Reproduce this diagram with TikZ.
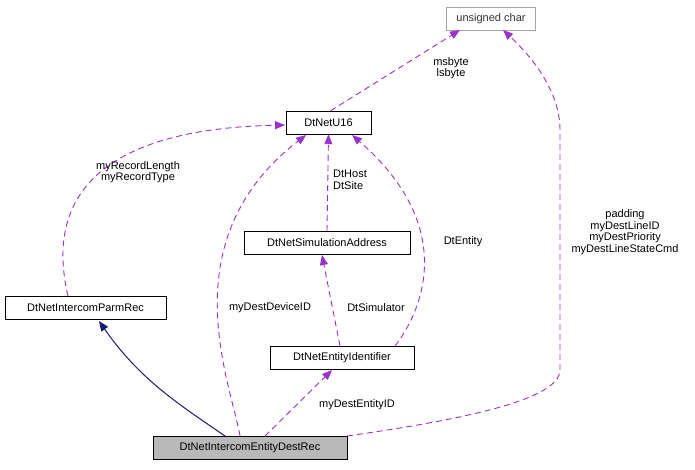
\documentclass[tikz,border=0pt]{standalone}
\usepackage{fontspec}
\setmainfont{Liberation Sans}
\usetikzlibrary{arrows.meta}
\begin{document}
\begin{tikzpicture}[x=1pt,y=-1pt,
 box/.style={draw=black,fill=white,minimum height=23pt,inner sep=0pt,font=\fontsize{11}{12}\selectfont},
 dep/.style={draw={rgb,255:red,153;green,50;blue,204},line width=0.9pt,dash pattern=on 6pt off 4pt,-{Triangle[length=10pt,width=8pt]},fill=none},
 inh/.style={draw={rgb,255:red,25;green,25;blue,112},line width=1pt,-{Triangle[length=10pt,width=8pt]}},
 lab/.style={font=\fontsize{11}{11.5}\selectfont,align=center,inner sep=1pt}]
\useasboundingbox (0,0) rectangle (695,469);
\node[box,draw=gray!70,minimum width=89pt,text=black!80] (uc) at (491,18.5) {unsigned char};
\node[box,minimum width=85pt] (u16) at (328.5,122.5) {DtNetU16};
\node[box,minimum width=166pt] (sa) at (327,242.5) {DtNetSimulationAddress};
\node[box,minimum width=161pt] (pr) at (85.5,308) {DtNetIntercomParmRec};
\node[box,minimum width=144pt] (ei) at (342,357.5) {DtNetEntityIdentifier};
\node[box,fill=gray!55,minimum width=194pt] (dr) at (250,447.5) {DtNetIntercomEntityDestRec};
\draw[dep] (u16.north) ++(2,0) coordinate (a1) (a1) -- (460,30);
\node[lab] at (451,68) {msbyte\\lsbyte};
\draw[dep] (68,296) .. controls (55,240) and (50,130) .. (285,125);
\node[lab] at (138,172) {myRecordLength\\myRecordType};
\draw[dep] (240,436) .. controls (230,380) and (170,240) .. (306,135);
\node[lab] at (270,308) {myDestDeviceID};
\draw[dep] (sa.north) -- (u16.south);
\node[lab,align=left] at (350,180) {DtHost\\DtSite};
\draw[dep] (395,346) .. controls (430,300) and (450,220) .. (352,135);
\node[lab] at (463,242) {DtEntity};
\draw[dep] (340,346) -- (322,255);
\node[lab] at (376,308) {DtSimulator};
\draw[dep] (265,436) -- (332,370);
\node[lab] at (357,405) {myDestEntityID};
\draw[dep] (347,436) .. controls (460,420) and (560,400) .. (560,370) -- (560,130) .. controls (560,90) and (530,55) .. (503,30);
\node[lab] at (625,232) {padding\\myDestLineID\\myDestPriority\\myDestLineStateCmd};
\draw[inh] (225,436) .. controls (180,405) and (140,380) .. (99,321);
\end{tikzpicture}
\end{document}
